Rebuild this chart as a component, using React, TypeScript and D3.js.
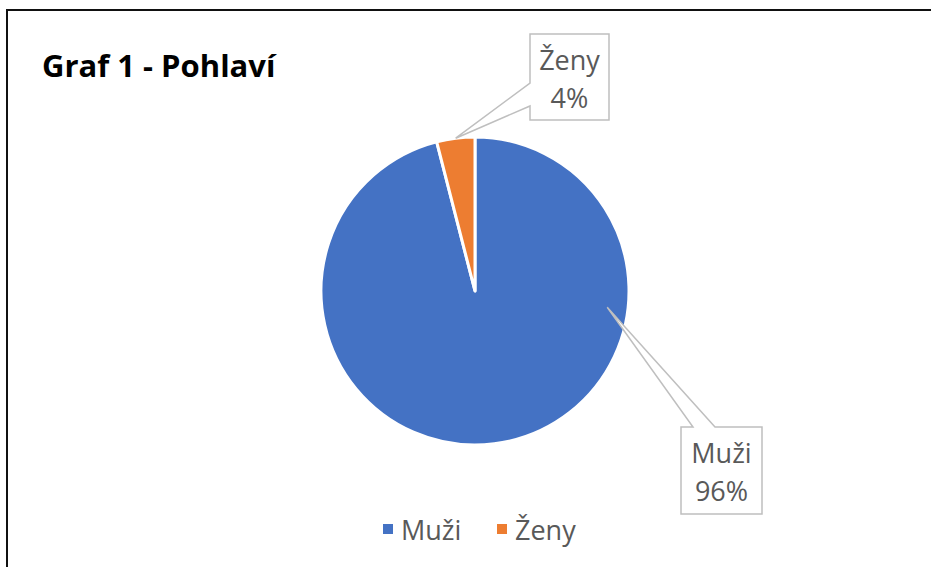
import React from 'react';
import * as d3 from 'd3';

const categories = ['Muži', 'Ženy'];
const values = [96, 4];
const percentLabels = ['96%', '4%'];
const colors = ['#4472C4', '#ED7D31'];

const W = 931;
const H = 567;
const cx = 475;
const cy = 291;
const R = 154;

// callout layout: box + where the pointer meets the slice
const callouts = [
  { box: { x: 681, y: 427, w: 81, h: 87 }, angle: 97, radius: 0.865, side: 'top', a: 12, b: 34 },
  { box: { x: 530, y: 34, w: 79, h: 86 }, angle: -7.2, radius: 1.0, side: 'left', a: 49, b: 72 },
];

function calloutPath(c, px, py) {
  const { x, y, w, h } = c.box;
  if (c.side === 'top') {
    return `M${x},${y} L${x + c.a},${y} L${px},${py} L${x + c.b},${y} L${x + w},${y} L${x + w},${y + h} L${x},${y + h} Z`;
  }
  return `M${x},${y} L${x + w},${y} L${x + w},${y + h} L${x},${y + h} L${x},${y + c.b} L${px},${py} L${x},${y + c.a} Z`;
}

export default function App() {
  const pie = d3.pie<number>().sort(null).value(d => d);
  const arcs = pie(values);
  const arc = d3.arc<d3.PieArcDatum<number>>().innerRadius(0).outerRadius(R);

  const font = "'Open Sans', sans-serif";

  return (
    <svg width={W} height={H} style={{ position: 'absolute', left: 0, top: 0, background: '#fff' }}>
      <rect x={7} y={10} width={W + 50} height={H + 50} fill="#fff" stroke="#111" strokeWidth={2} />
      <text x={42} y={77} fontFamily={font} fontWeight="bold" fontSize={31} fill="#000">
        Graf 1 - Pohlaví
      </text>
      <g transform={`translate(${cx},${cy})`}>
        {arcs.map((d, i) => (
          <path key={i} d={arc(d) || ''} fill={colors[i]} stroke="#fff" strokeWidth={3} strokeLinejoin="round" />
        ))}
      </g>
      {callouts.map((c, i) => {
        const ang = (c.angle * Math.PI) / 180;
        const px = cx + Math.sin(ang) * R * c.radius;
        const py = cy - Math.cos(ang) * R * c.radius;
        const { x, y, w, h } = c.box;
        return (
          <g key={i}>
            <path d={calloutPath(c, px, py)} fill="#fff" stroke="#BFBFBF" strokeWidth={1.5} />
            <text x={x + w / 2} y={y + 36} textAnchor="middle" fontFamily={font} fontSize={27} fill="#595959">
              {categories[i]}
            </text>
            <text x={x + w / 2} y={y + 74} textAnchor="middle" fontFamily={font} fontSize={27} fill="#595959">
              {percentLabels[i]}
            </text>
          </g>
        );
      })}
      <g>
        {categories.map((name, i) => {
          const lx = 383 + i * 114;
          return (
            <g key={name}>
              <rect x={lx} y={524} width={10} height={10} fill={colors[i]} />
              <text x={lx + 18} y={540} fontFamily={font} fontSize={27} fill="#595959">
                {name}
              </text>
            </g>
          );
        })}
      </g>
    </svg>
  );
}
